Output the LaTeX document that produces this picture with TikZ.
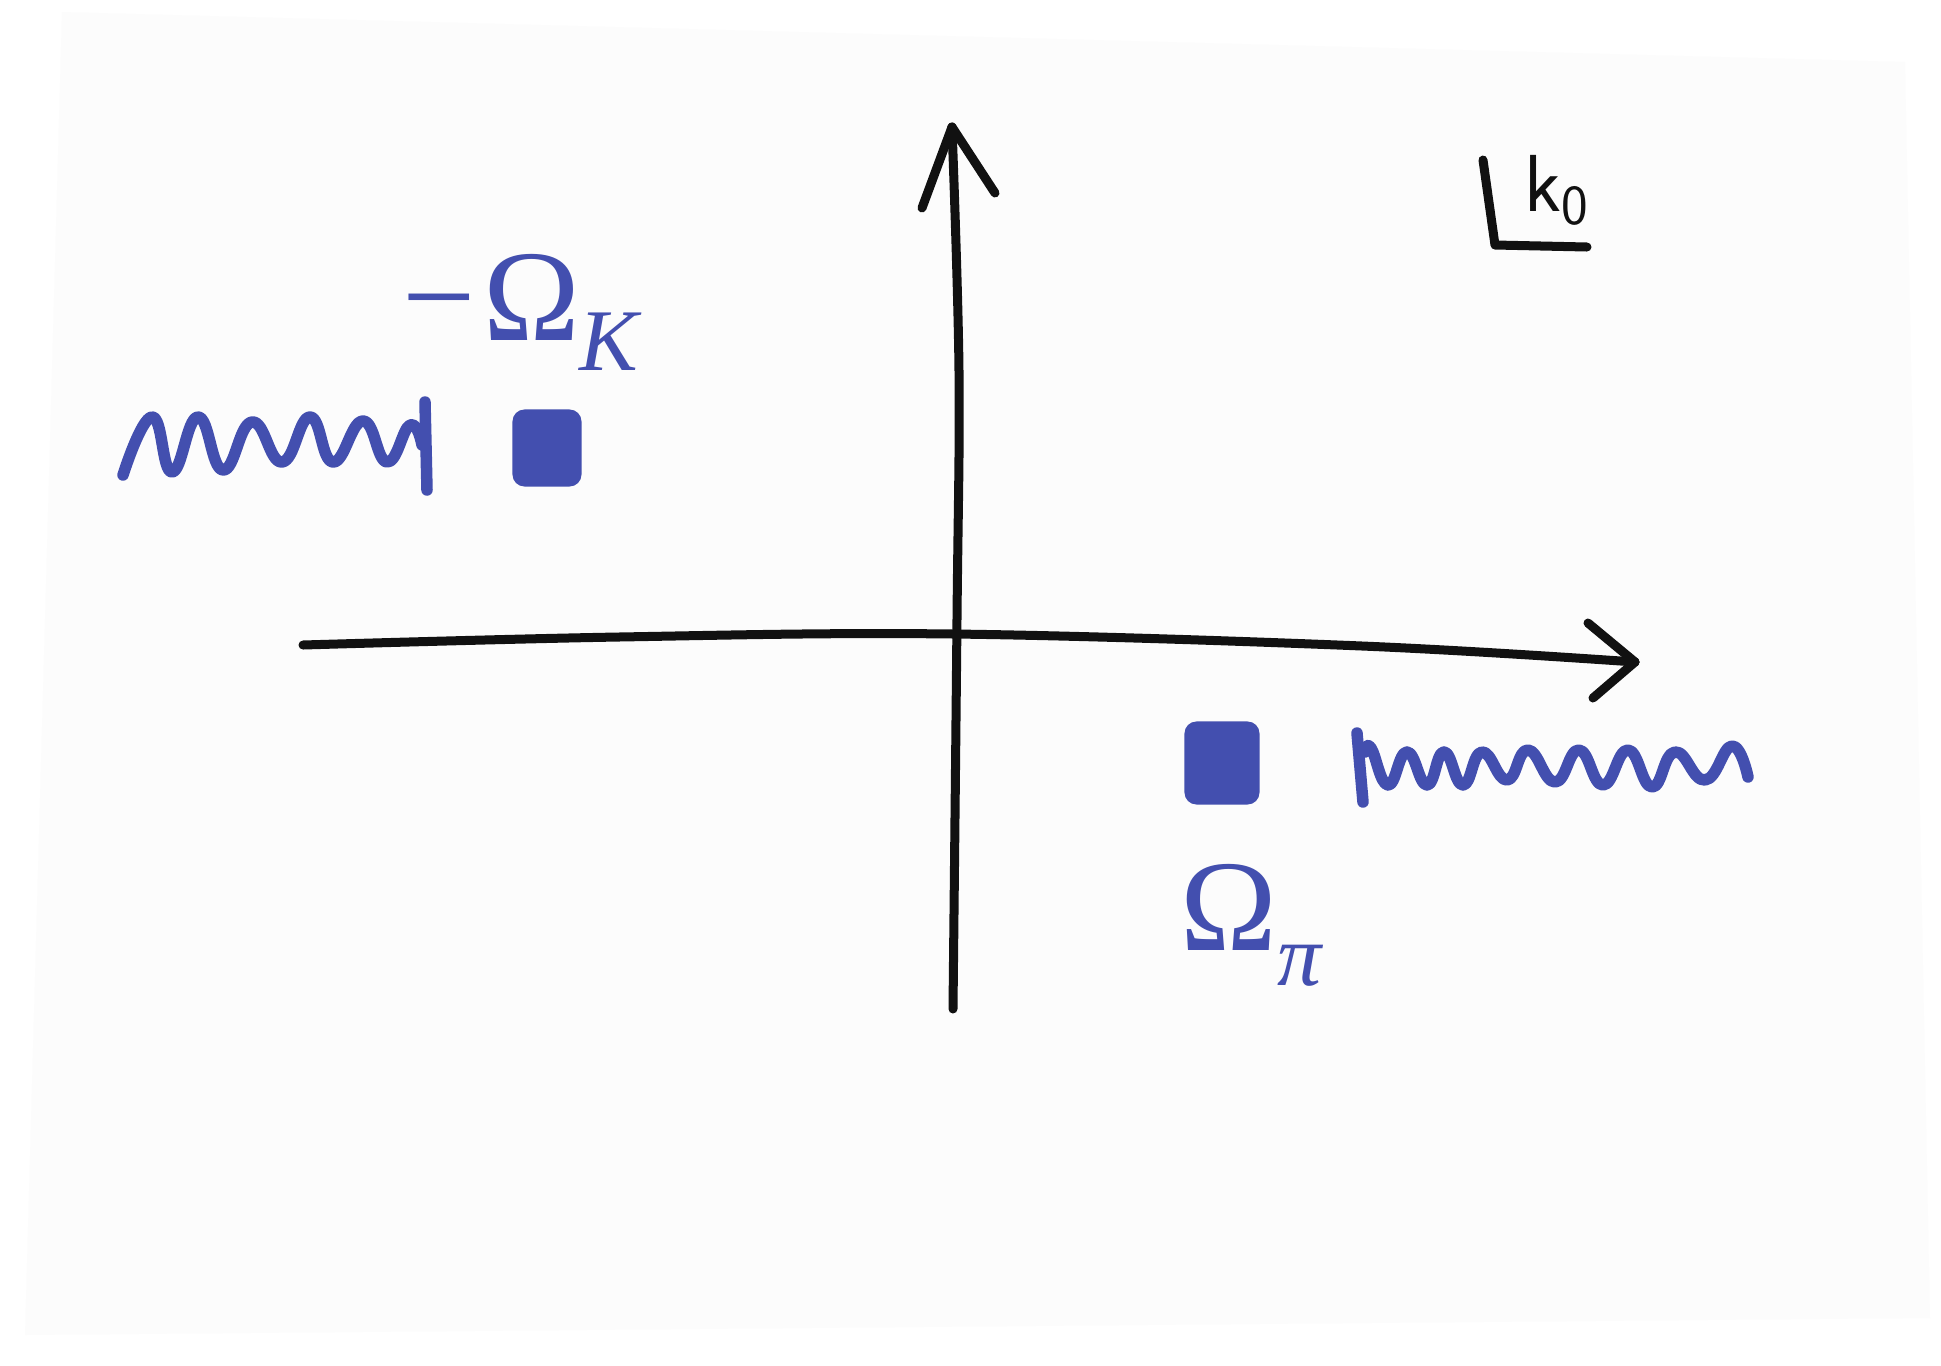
\documentclass[tikz,border=0pt]{standalone}
\usepackage{fontspec}
\usepackage{tikz}
\usetikzlibrary{arrows.meta,positioning}
\newfontfamily\labelfont{Liberation Serif}
\definecolor{ink}{HTML}{434FAF}
\definecolor{pen}{HTML}{111111}
\definecolor{paper}{HTML}{FCFCFC}
\newcommand{\lowsub}[2]{\raisebox{-#1}{\fontsize{25}{28}\selectfont\itshape #2}}

\begin{document}
\begin{tikzpicture}[
  x=0.01cm, y=-0.01cm,
  axis/.style={draw=pen, line width=0.9mm, line cap=round, line join=round},
  cut/.style={draw=ink, line width=1.15mm, line cap=round, line join=round},
  pole/.style={fill=ink, rounded corners=1.2mm, inner sep=0pt},
  lbl/.style={text=ink, inner sep=0pt, anchor=base west, font=\labelfont\fontsize{37}{42}\selectfont},
]
\useasboundingbox (0,0) rectangle (1941,1366);
\fill[white] (0,0) rectangle (1941,1366);
\fill[paper] (62,12) -- (1905,62) -- (1930,1318) -- (25,1335) -- cycle;

% axes
\coordinate (xl) at (303,645);
\coordinate (xr) at (1635,662);
\coordinate (yb) at (953,1009);
\coordinate (yt) at (952,127);
\draw[axis] plot[smooth, tension=0.6] coordinates {(xl) (619,637) (953,634) (1362,646) (xr)};
\draw[axis] plot[smooth, tension=0.6] coordinates {(yb) (957,619) (959,371) (yt)};
\draw[axis] (xr) -- ++(-47,-39);
\draw[axis] (xr) -- ++(-42,36);
\draw[axis] (yt) -- ++(-30,81);
\draw[axis] (yt) -- ++(43,66);

% plane label
\draw[pen, line width=0.9mm, line cap=round, line join=round] (1483,160) -- (1495,245) -- (1587,247);
\node[text=pen, inner sep=0pt, anchor=base west, font=\sffamily\fontsize{23}{26}\selectfont] (plane) at (1524,211) {k$_{\mathsf{0}}$};

% poles
\node[pole, minimum width=6.9mm, minimum height=7.7mm] (pk) at (547,448) {};
\node[pole, minimum width=7.5mm, minimum height=8.3mm] (ppi) at (1222,763) {};

\node[lbl] (lk) at (402,340) {−\kern2ptΩ\lowsub{3mm}{K}};
\node[lbl] (lpi) at (1180,950) {Ω\lowsub{3.5mm}{π}};

% branch cuts
\coordinate (ck1) at (425,402);
\coordinate (ck2) at (427,490);
\draw[cut] (ck1) -- (ck2);
\draw[cut] plot[smooth, tension=0.8] coordinates {(123,475) (152,417) (172,472) (198,417) (223,470)
  (252,422) (282,462) (310,417) (333,462) (363,421) (387,462) (410,425) (422,445)};

\coordinate (cp1) at (1357,733);
\coordinate (cp2) at (1363,802);
\draw[cut] (cp1) -- (cp2);
\draw[cut] plot[smooth, tension=0.8] coordinates {(1365,752) (1371,748) (1388,785) (1407,752) (1427,785)
  (1444,752) (1463,785) (1482,752) (1507,780) (1528,750) (1555,782) (1579,750) (1603,785)
  (1628,750) (1652,787) (1675,752) (1705,780) (1732,746) (1748,777)};

\end{tikzpicture}
\end{document}
